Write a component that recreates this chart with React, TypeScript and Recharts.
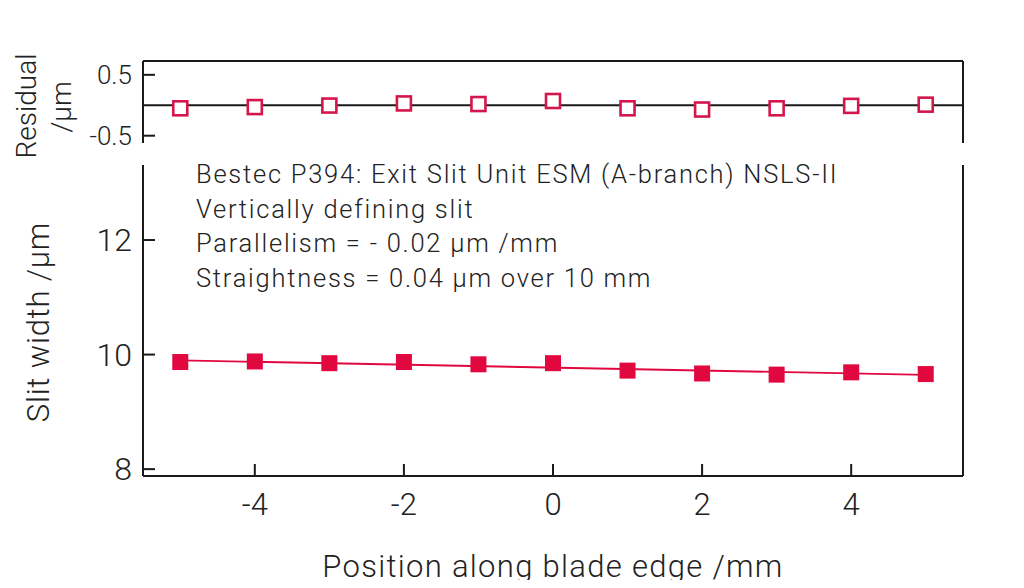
import { ComposedChart, Scatter, Line, XAxis, YAxis, ReferenceLine } from 'recharts';

// measured positions along the blade edge (mm)
const positions = [-5, -4, -3, -2, -1, 0, 1, 2, 3, 4, 5];
// slit width (µm)
const slitWidth = [9.87, 9.88, 9.85, 9.87, 9.83, 9.85, 9.72, 9.67, 9.65, 9.69, 9.66];
// residual from linear fit (µm)
const residual = [-0.05, -0.03, -0.005, 0.03, 0.02, 0.07, -0.05, -0.07, -0.05, -0.01, 0.01];
// linear fit end points
const fitX = [-5, 5];
const fitY = [9.9, 9.645];

const xTicks = [-4, -2, 0, 2, 4];
const widthTicks = [8, 10, 12];
const residualTicks = [-0.5, 0.5];

const noteLines = [
  'Bestec P394: Exit Slit Unit ESM (A-branch) NSLS-II',
  'Vertically defining slit',
  'Parallelism = - 0.02 µm /mm',
  'Straightness = 0.04 µm over 10 mm',
];

const widthData = positions.map((x, i) => ({ x, y: slitWidth[i] }));
const residualData = positions.map((x, i) => ({ x, y: residual[i] }));
const fitData = fitX.map((x, i) => ({ x, y: fitY[i] }));

const RED = '#e0083f';
const AXIS = '#1a1a1a';
const FONT = 'Roboto, "Liberation Sans", sans-serif';

const FilledSquare = (props: any) => (
  <rect x={props.cx - 8} y={props.cy - 8} width={16} height={16} fill={RED} />
);
const OpenSquare = (props: any) => (
  <rect x={props.cx - 7} y={props.cy - 7} width={14} height={14} fill="#fff" stroke="#d4164c" strokeWidth={2.6} />
);

const axisLine = { stroke: AXIS, strokeWidth: 2 };
const tickLine = { stroke: AXIS, strokeWidth: 2 };

export default function App() {
  return (
    <div style={{ position: 'relative', width: 1024, height: 588, margin: -8, background: '#fff', fontFamily: FONT, fontWeight: 300, color: '#222' }}>
      {/* residual panel */}
      <div style={{ position: 'absolute', left: 0, top: 0 }}>
        <ComposedChart width={1024} height={160} margin={{ top: 51, left: 63, right: 41, bottom: 17 }}>
          <XAxis
            type="number"
            dataKey="x"
            orientation="top"
            domain={[-5.5, 5.5]}
            ticks={xTicks}
            tick={false}
            height={10}
            tickSize={-12}
            axisLine={axisLine}
            tickLine={tickLine}
            allowDataOverflow
          />
          <YAxis
            type="number"
            domain={[-0.62, 0.727]}
            ticks={residualTicks}
            width={80}
            tickSize={-12}
            tickMargin={23}
            axisLine={axisLine}
            tickLine={tickLine}
            tick={{ fontSize: 26, fill: '#222', fontFamily: FONT, fontWeight: 300 }}
            allowDataOverflow
          />
          <YAxis
            yAxisId="r"
            orientation="right"
            type="number"
            domain={[-0.62, 0.727]}
            ticks={residualTicks}
            width={20}
            tickSize={-12}
            tick={false}
            axisLine={axisLine}
            tickLine={tickLine}
            allowDataOverflow
          />
          <ReferenceLine y={0} stroke={AXIS} strokeWidth={2} />
          <Scatter data={residualData} dataKey="y" shape={<OpenSquare />} isAnimationActive={false} />
        </ComposedChart>
      </div>

      {/* slit width panel */}
      <div style={{ position: 'absolute', left: 0, top: 0 }}>
        <ComposedChart width={1024} height={588} margin={{ top: 165, left: 63, right: 41, bottom: 52 }}>
          <XAxis
            type="number"
            dataKey="x"
            domain={[-5.5, 5.5]}
            ticks={xTicks}
            height={60}
            tickSize={-12}
            tickMargin={29}
            axisLine={axisLine}
            tickLine={tickLine}
            tick={{ fontSize: 31, fill: '#222', fontFamily: FONT, fontWeight: 300 }}
            allowDataOverflow
          />
          <YAxis
            type="number"
            domain={[7.88, 13.31]}
            ticks={widthTicks}
            width={80}
            tickSize={-12}
            tickMargin={23}
            axisLine={axisLine}
            tickLine={tickLine}
            tick={{ fontSize: 32, fill: '#222', fontFamily: FONT, fontWeight: 300 }}
            allowDataOverflow
          />
          <YAxis
            yAxisId="r"
            orientation="right"
            type="number"
            domain={[7.88, 13.31]}
            ticks={widthTicks}
            width={20}
            tickSize={-12}
            tick={false}
            axisLine={axisLine}
            tickLine={tickLine}
            allowDataOverflow
          />
          <Line data={fitData} dataKey="y" stroke={RED} strokeWidth={1.8} dot={false} isAnimationActive={false} />
          <Scatter data={widthData} dataKey="y" shape={<FilledSquare />} isAnimationActive={false} />
        </ComposedChart>
      </div>

      {/* annotation */}
      <div style={{ position: 'absolute', left: 196, top: 157, fontSize: 25.5, lineHeight: '34.5px', letterSpacing: 1.75, whiteSpace: 'nowrap' }}>
        {noteLines.map((t) => (
          <div key={t}>{t}</div>
        ))}
      </div>

      {/* axis titles */}
      <div style={{ position: 'absolute', left: 553, top: 566, transform: 'translate(-50%, -50%)', fontSize: 31, letterSpacing: 1.3, whiteSpace: 'nowrap' }}>
        Position along blade edge /mm
      </div>
      <div style={{ position: 'absolute', left: 38, top: 322, transform: 'translate(-50%, -50%) rotate(-90deg)', fontSize: 31, letterSpacing: 0.8, whiteSpace: 'nowrap' }}>
        Slit width /µm
      </div>
      <div style={{ position: 'absolute', left: 26, top: 106, transform: 'translate(-50%, -50%) rotate(-90deg)', fontSize: 28, whiteSpace: 'nowrap' }}>
        Residual
      </div>
      <div style={{ position: 'absolute', left: 61, top: 107, transform: 'translate(-50%, -50%) rotate(-90deg)', fontSize: 28, whiteSpace: 'nowrap' }}>
        /µm
      </div>
    </div>
  );
}
